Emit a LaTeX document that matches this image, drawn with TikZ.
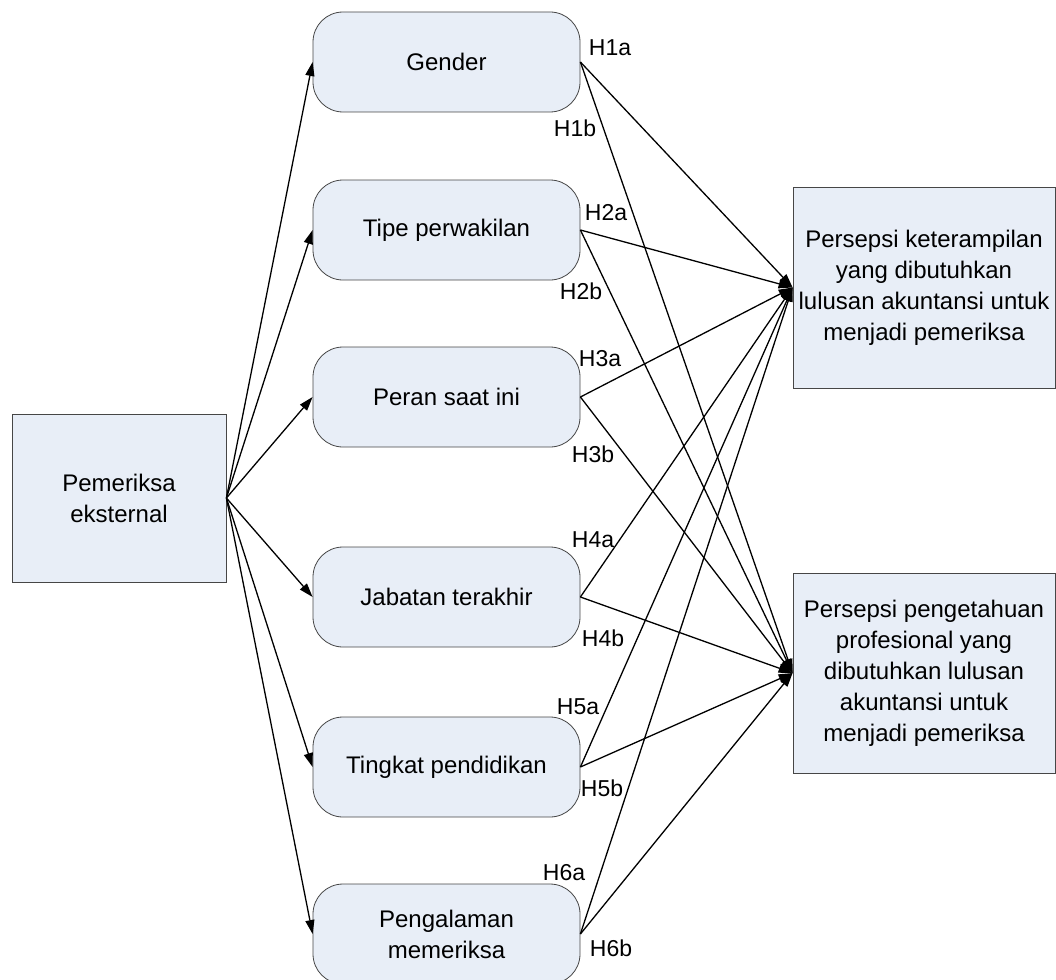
\documentclass[tikz,border=0pt]{standalone}
\usepackage{fontspec}
\setmainfont{Liberation Sans}
\usetikzlibrary{arrows.meta}
\definecolor{boxfill}{RGB}{232,238,247}
\definecolor{boxline}{RGB}{70,70,70}
\begin{document}
\begin{tikzpicture}[x=1pt, y=-1pt, every node/.style={font=\fontsize{24}{31}\selectfont},
  rbox/.style={draw=boxline, line width=0.8pt, fill=boxfill, rounded corners=30pt,
    minimum width=267pt, minimum height=100pt, align=center, inner sep=0pt},
  sbox/.style={draw=boxline, line width=0.8pt, fill=boxfill, align=center, inner sep=0pt},
  arr/.style={-{Triangle[length=14pt,width=9pt]}, line width=1.3pt},
  hlabel/.style={font=\fontsize{23}{28}\selectfont, inner sep=0pt}]
  \useasboundingbox (0,0) rectangle (1056,979);
  % Source on the left
  \node[sbox, minimum width=214pt, minimum height=168pt] (ext) at (119,498) {Pemeriksa\\eksternal};
  % Middle column of characteristics
  \node[rbox] (gender) at (446.5,62) {Gender};
  \node[rbox] (tipe) at (446.5,230) {Tipe perwakilan};
  \node[rbox] (peran) at (446.5,397) {Peran saat ini};
  \node[rbox] (jabatan) at (446.5,597) {Jabatan terakhir};
  \node[rbox] (tingkat) at (446.5,767) {Tingkat pendidikan};
  \node[rbox] (pengalaman) at (446.5,934) {Pengalaman\\memeriksa};
  % Two outcomes on the right
  \node[sbox, minimum width=262pt, minimum height=201pt] (skill) at (924,287.5)
    {Persepsi keterampilan\\yang dibutuhkan\\lulusan akuntansi untuk\\menjadi pemeriksa};
  \node[sbox, minimum width=262pt, minimum height=200pt] (know) at (924,673)
    {Persepsi pengetahuan\\profesional yang\\dibutuhkan lulusan\\akuntansi untuk\\menjadi pemeriksa};
  % Arrows from the source
  \draw[arr] (ext.east) -- (gender.west); \draw[arr] (ext.east) -- (tipe.west);
  \draw[arr] (ext.east) -- (peran.west); \draw[arr] (ext.east) -- (jabatan.west);
  \draw[arr] (ext.east) -- (tingkat.west); \draw[arr] (ext.east) -- (pengalaman.west);
  % Hypotheses: a -> skills, b -> knowledge
  \draw[arr] (gender.east) -- (skill.west); \draw[arr] (gender.east) -- (know.west);
  \draw[arr] (tipe.east) -- (skill.west); \draw[arr] (tipe.east) -- (know.west);
  \draw[arr] (peran.east) -- (skill.west); \draw[arr] (peran.east) -- (know.west);
  \draw[arr] (jabatan.east) -- (skill.west); \draw[arr] (jabatan.east) -- (know.west);
  \draw[arr] (tingkat.east) -- (skill.west); \draw[arr] (tingkat.east) -- (know.west);
  \draw[arr] (pengalaman.east) -- (skill.west); \draw[arr] (pengalaman.east) -- (know.west);
  % Hypothesis labels
  \node[hlabel] (h1a) at (610,48) {H1a};
  \node[hlabel] (h1b) at (575,128) {H1b};
  \node[hlabel] (h2a) at (606,213) {H2a};
  \node[hlabel] (h2b) at (581,291) {H2b};
  \node[hlabel] (h3a) at (600,359) {H3a};
  \node[hlabel] (h3b) at (593,454) {H3b};
  \node[hlabel] (h4a) at (593,540) {H4a};
  \node[hlabel] (h4b) at (603,638) {H4b};
  \node[hlabel] (h5a) at (578,707) {H5a};
  \node[hlabel] (h5b) at (602,788) {H5b};
  \node[hlabel] (h6a) at (564,873) {H6a};
  \node[hlabel] (h6b) at (611,948) {H6b};
\end{tikzpicture}
\end{document}
